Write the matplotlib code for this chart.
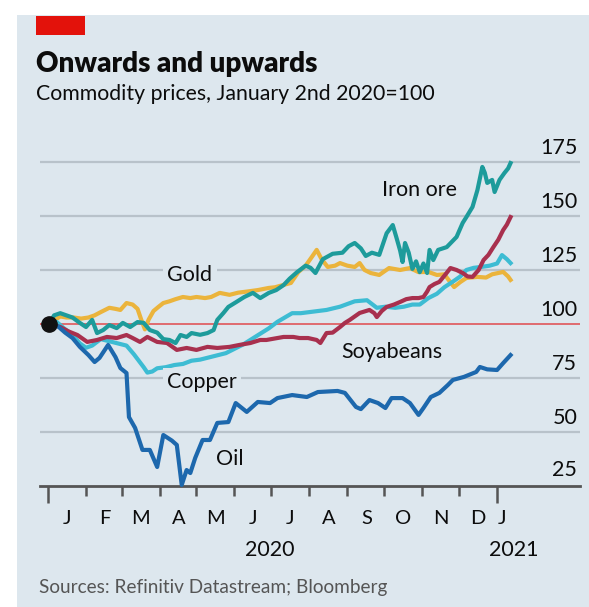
import matplotlib.pyplot as plt
from matplotlib.patches import Rectangle
from matplotlib.transforms import blended_transform_factory
import numpy as np

# days counted from January 1st 2020, values indexed to 100 on January 2nd 2020
gold_day = [1, 6, 10, 15, 21, 27, 33, 38, 43, 50, 55, 59, 64, 69, 73, 76, 79, 82, 86, 90, 94, 99, 104,
            110, 116, 121, 128, 133, 140, 148, 155, 162, 171, 180, 185, 192, 198, 204, 210, 215, 219,
            223, 228, 234, 238, 244, 250, 254, 258, 263, 270, 278, 287, 295, 302, 310, 317, 323, 331,
            336, 341, 350, 357, 362, 371, 375, 377]
gold_val = [100, 102, 103.5, 103, 103, 102.5, 103, 104, 105.5, 107.5, 107, 106.5, 109.7, 109, 107, 102,
            97.5, 102, 106, 107.9, 109.7, 110.5, 111.5, 112.5, 112, 112.5, 112, 112.5, 114.4, 113.5,
            114.5, 115, 115.7, 116.7, 117, 118.1, 119, 124, 127, 131, 134.3, 130, 126.4, 127, 128.2,
            127, 126.4, 128.2, 125, 123.6, 122.7, 125.9, 125, 125.9, 124, 124.1, 122.7, 123, 117.1,
            119.4, 121.3, 121.8, 121.5, 123, 124.1, 122, 120.4]

copper_day = [1, 7, 13, 20, 26, 31, 36, 43, 50, 57, 64, 70, 74, 78, 81, 85, 89, 96, 103, 110, 117, 124,
              131, 138, 145, 152, 159, 166, 173, 180, 187, 193, 199, 206, 213, 220, 227, 238, 250, 260,
              268, 275, 283, 290, 297, 303, 310, 317, 323, 331, 336, 341, 347, 353, 360, 366, 370,
              374, 377]
copper_val = [100, 101, 98, 95, 91, 89, 90, 93, 92, 91, 90, 86, 83, 80, 77.5, 78, 79.5, 80, 81, 81.5,
              83, 83.5, 84.5, 85.5, 86.5, 88.5, 90.5, 93, 95.5, 98, 101, 103, 105, 105, 105.5, 106,
              106.5, 108, 110.5, 111, 107.5, 108, 107.5, 108, 109, 109, 112, 114, 117, 120, 122, 125,
              126, 126.4, 127, 128, 131.9, 130, 128.2]

soy_day = [1, 10, 17, 24, 32, 40, 48, 56, 64, 69, 75, 81, 89, 97, 105, 113, 121, 130, 138, 148, 156,
           165, 173, 178, 192, 200, 205, 212, 219, 222, 227, 232, 238, 242, 246, 250, 254, 262, 266,
           268, 272, 276, 282, 287, 292, 297, 302, 306, 309, 311, 315, 319, 324, 328, 333, 338, 342,
           346, 351, 355, 359, 363, 367, 371, 374, 377]
soy_val = [100, 98.6, 96.5, 94.9, 91.7, 92.6, 94, 93.5, 94.9, 93.5, 91.7, 94, 91.7, 91.2, 88, 88.9,
           88, 89.4, 88.9, 89.4, 90.3, 91.2, 92.6, 92.6, 94, 94, 93.5, 93.5, 92.6, 91.2, 95.8, 96,
           98.6, 100.5, 101.9, 103.5, 105.1, 106.5, 105, 103.2, 106, 107.9, 109, 110.2, 111.5, 112,
           112, 112.5, 115, 117.1, 118.5, 119.5, 123, 125.9, 125, 123.6, 122, 121.8, 125, 129.6,
           132, 135.6, 139, 143.5, 146, 149.5]

iron_day = [1, 5, 10, 15, 20, 26, 31, 36, 40, 45, 50, 56, 61, 67, 73, 78, 83, 89, 94, 99, 104, 108,
            113, 117, 124, 130, 135, 138, 143, 147, 153, 160, 167, 173, 180, 186, 192, 197, 203, 210,
            214, 218, 224, 232, 240, 245, 250, 255, 259, 264, 270, 276, 281, 284, 287, 289, 291, 294,
            297, 300, 303, 306, 309, 311, 314, 318, 325, 333, 338, 341, 346, 350, 354, 356, 358, 362,
            364, 368, 372, 375, 377]
iron_val = [100, 104, 105, 104, 103, 100.5, 98.6, 101.9, 95.8, 97.2, 99.5, 98.1, 100.5, 98.6, 100.9,
            100.5, 97.2, 96, 93, 92.6, 91.2, 94.9, 94, 95.8, 95, 95.8, 97.2, 101.9, 105.1, 107.9, 110,
            112.5, 114.4, 112, 114.4, 115.7, 118, 121, 124, 127, 126, 123.6, 130, 132.5, 133, 136,
            137.5, 135, 131.5, 133, 132, 142, 145.8, 140, 134, 128.7, 137.5, 133, 125.5, 129, 124,
            128, 123.6, 134.3, 129.6, 134.3, 135.6, 140.3, 146.8, 149.5, 154.2, 162, 172.7, 170,
            165.3, 166.7, 161.1, 166.7, 169.9, 172, 174.5]

oil_day = [1, 8, 14, 20, 26, 33, 38, 42, 49, 55, 59, 64, 66, 71, 77, 83, 89, 94, 101, 105, 109, 113,
           116, 120, 126, 132, 138, 147, 153, 162, 171, 181, 187, 199, 211, 220, 236, 242, 251, 255,
           262, 269, 275, 280, 289, 295, 302, 306, 312, 319, 326, 330, 339, 349, 352, 358, 366, 371,
           377]
oil_val = [100, 99, 96, 93.5, 89.4, 85.6, 82.4, 84.3, 90.3, 84.7, 79.6, 77.3, 56.9, 51.9, 41.7, 41.7,
           33.8, 48.6, 46, 44, 25.5, 32.4, 31, 38, 46.3, 46.3, 54.2, 54.6, 63.4, 59.3, 63.9, 63.4,
           65.7, 67.1, 66.2, 68.5, 69, 68.1, 61.6, 60.6, 64.8, 63.4, 61.1, 65.7, 65.7, 63.4, 57.9,
           61.1, 66.2, 68.1, 71.8, 74.1, 75.5, 77.8, 80.1, 79, 78.7, 81.9, 85.6]

month_starts = [0, 31, 60, 91, 121, 152, 182, 213, 244, 274, 305, 335, 366]
month_labels = ["J", "F", "M", "A", "M", "J", "J", "A", "S", "O", "N", "D", "J"]
y_ticks = [25, 50, 75, 100, 125, 150, 175]

bg = "#dde7ee"
plt.rcParams["font.family"] = ["Lato", "DejaVu Sans"]

fig = plt.figure(figsize=(5.89, 6.07), dpi=100)
fig.patch.set_facecolor("white")
# light panel behind everything
fig.add_artist(Rectangle((17 / 589, 0), 1 - 17 / 589, 1 - 15 / 607, transform=fig.transFigure,
                         facecolor=bg, edgecolor="none", zorder=-10))
fig.add_artist(Rectangle((36 / 589, 1 - 35 / 607), 49 / 589, 19 / 607, transform=fig.transFigure,
                         facecolor="#e3120b", edgecolor="none"))
fig.text(36 / 589, 1 - 72 / 607, "Onwards and upwards", fontsize=20, fontweight="heavy",
         va="baseline", color="#0c0c0c")
fig.text(36 / 589, 1 - 100 / 607, "Commodity prices, January 2nd 2020=100", fontsize=15.3,
         va="baseline", color="#0c0c0c")
fig.text(39 / 589, 1 - 587 / 607, "Sources: Refinitiv Datastream; Bloomberg", fontsize=13.7,
         va="center", color="#555555")

ax = fig.add_axes([40 / 589, 121 / 607, 540 / 589, 330.5 / 607])
ax.set_facecolor("none")
ax.set_xlim(-6.5, 433.6)
ax.set_ylim(25, 178)

# gridlines and the 100 line
for v in y_ticks:
    if v == 25:
        continue
    if v == 100:
        ax.axhline(v, color="#e0565a", lw=1.2, zorder=1)
    else:
        ax.axhline(v, color="#b8c2ca", lw=1.6, zorder=0)
    ax.annotate(str(v), (0.995, v), xycoords=("axes fraction", "data"), xytext=(0, 3),
                textcoords="offset points", ha="right", va="bottom", fontsize=15.5, color="#0c0c0c")
ax.annotate("25", (0.995, 25), xycoords=("axes fraction", "data"), xytext=(0, 4),
            textcoords="offset points", ha="right", va="bottom", fontsize=15.5, color="#0c0c0c")

lw = 3
ax.plot(gold_day, gold_val, color="#ebb43c", lw=lw, zorder=3)
ax.plot(copper_day, copper_val, color="#3dbcd3", lw=lw, zorder=3)
ax.plot(soy_day, soy_val, color="#a8304e", lw=lw, zorder=4)
ax.plot(iron_day, iron_val, color="#1d9b9b", lw=lw, zorder=5)
ax.plot(oil_day, oil_val, color="#1d68ad", lw=lw, zorder=6, clip_on=False)
ax.plot([1], [100], "o", color="#111111", ms=11, zorder=8, clip_on=False)

lab = dict(fontsize=15.5, color="#0c0c0c", ha="center", va="center", zorder=7,
           bbox=dict(facecolor=bg, edgecolor="none", pad=3))
ax.text(115.7, 122.7, "Gold", **lab)
ax.text(303, 162, "Iron ore", **lab)
ax.text(280, 87, "Soyabeans", **lab)
ax.text(125.5, 73.1, "Copper", **lab)
ax.text(148, 37.5, "Oil", **lab)

for s in ["top", "right", "left"]:
    ax.spines[s].set_visible(False)
ax.spines["bottom"].set_color("#555555")
ax.spines["bottom"].set_linewidth(2)
ax.set_yticks([])

ax.set_xticks(month_starts)
ax.set_xticklabels([])
ax.tick_params(axis="x", which="major", length=7, width=1.8, color="#555555")
for t in [ax.xaxis.get_major_ticks()[0], ax.xaxis.get_major_ticks()[-1]]:
    t.tick1line.set_markersize(12)
mids = [d + 15.5 for d in month_starts[:-1]] + [370]
ax.set_xticks(mids, minor=True)
ax.set_xticklabels(month_labels, minor=True, fontsize=14.5, color="#0c0c0c")
ax.tick_params(axis="x", which="minor", length=0, pad=17)

tr = blended_transform_factory(ax.transData, ax.transAxes)
ax.text(181, -0.194, "2020", transform=tr, ha="center", va="center", fontsize=15.5, color="#0c0c0c")
ax.text(380, -0.194, "2021", transform=tr, ha="center", va="center", fontsize=15.5, color="#0c0c0c")

fig.savefig("out.png", dpi=100)
